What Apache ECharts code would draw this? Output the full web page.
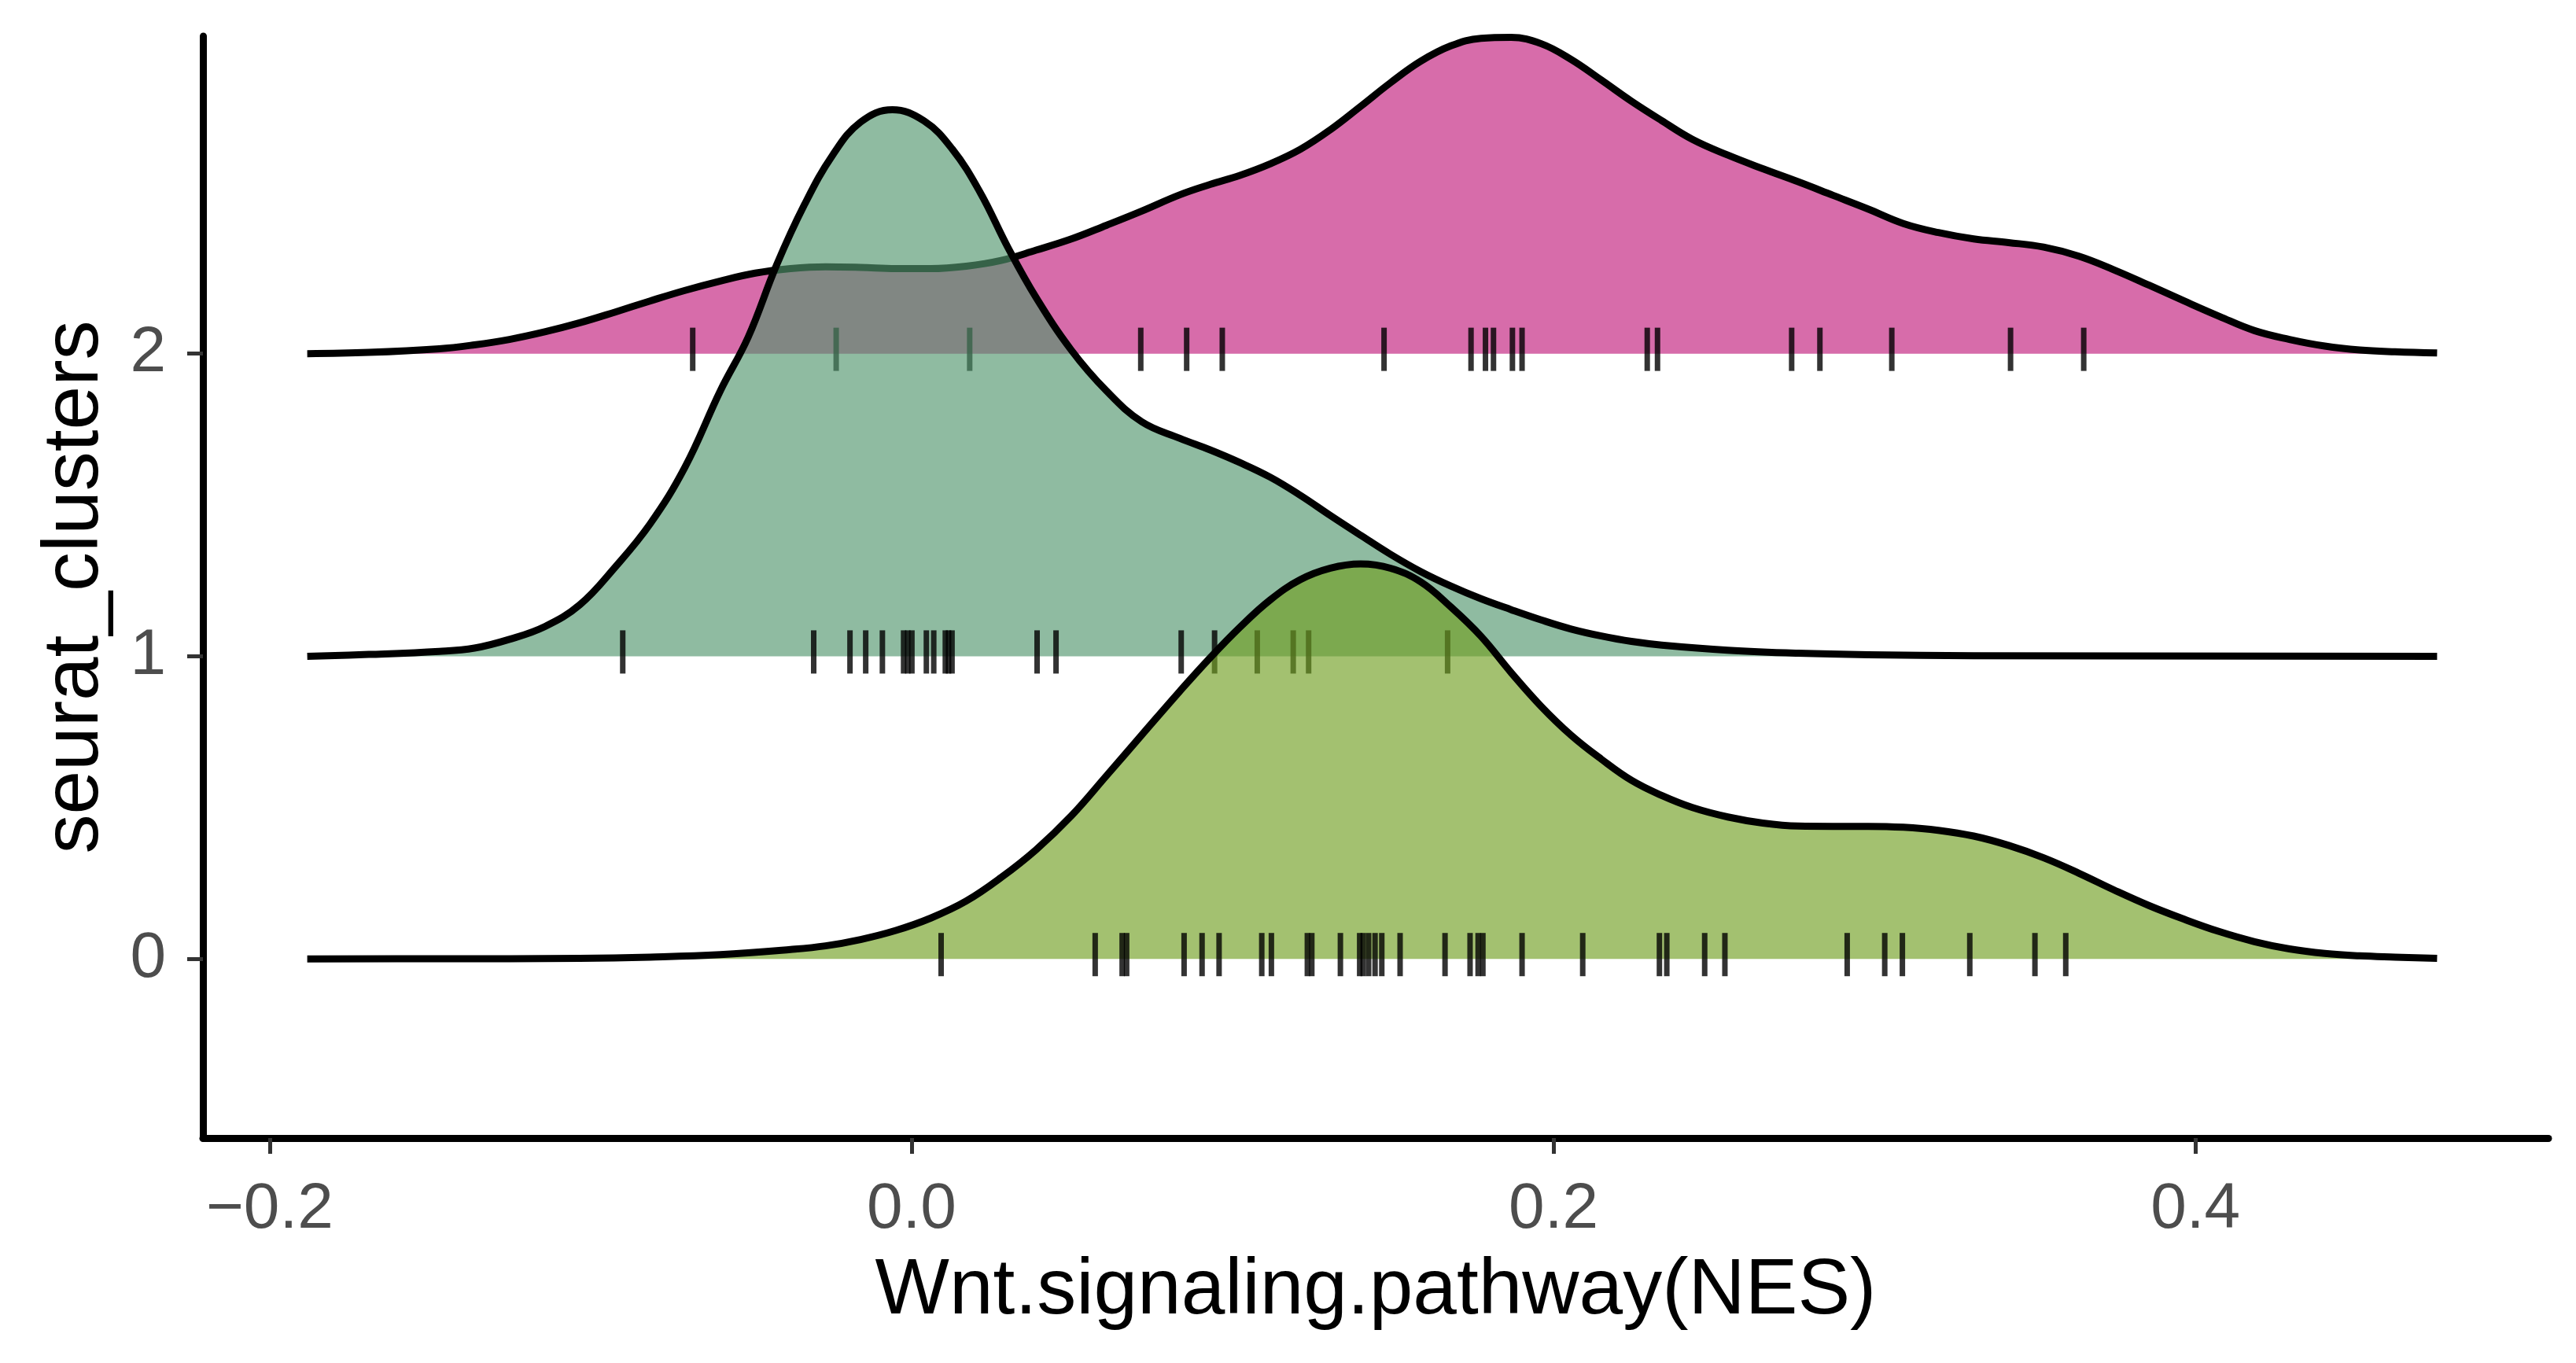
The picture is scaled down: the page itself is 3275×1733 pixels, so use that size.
<!DOCTYPE html>
<html>
<head>
<meta charset="utf-8">
<script src="https://cdn.jsdelivr.net/npm/echarts@6/dist/echarts.min.js"></script>
<style>
html, body { margin: 0; padding: 0; background: #fff; }
#chart { width: 3275px; height: 1733px; }
</style>
</head>
<body>
<div id="chart"></div>
<script>
var clusters = ['0', '1', '2'];
var xTicks = [-0.2, 0, 0.2, 0.4];
var yTicks = [0, 1, 2];

// ridge outlines: x value and height above the cluster baseline
var dens2X = [-0.1883, -0.1691, -0.1472, -0.1362, -0.1253, -0.1143, -0.1034, -0.0925, -0.0815, -0.0706,
    -0.0596, -0.0487, -0.0377, -0.0268, -0.0159, -0.0049, 0.0060, 0.0170, 0.0279, 0.0388,
    0.0498, 0.0607, 0.0717,
    0.0836, 0.0930, 0.1023, 0.1117, 0.1211, 0.1305, 0.1399, 0.1492, 0.1586, 0.1680,
    0.1774, 0.1868, 0.1962, 0.2055, 0.2149, 0.2243, 0.2337,
    0.2433, 0.2543, 0.2652, 0.2762, 0.2871, 0.2980, 0.3090, 0.3199, 0.3309, 0.3418,
    0.3527, 0.3637, 0.3746, 0.3856, 0.3965, 0.4075, 0.4184, 0.4293, 0.4403, 0.4512, 0.4622,
    0.4753];
var dens2H = [0, 0.004, 0.016, 0.029, 0.047, 0.072, 0.102, 0.137, 0.174, 0.209,
    0.240, 0.266, 0.281, 0.287, 0.285, 0.281, 0.281, 0.289, 0.308, 0.342,
    0.379, 0.424, 0.471,
    0.525, 0.559, 0.589, 0.627, 0.675, 0.740, 0.817, 0.895, 0.966, 1.017,
    1.042, 1.045, 1.024, 0.972, 0.904, 0.834, 0.770,
    0.708, 0.656, 0.611, 0.568, 0.523, 0.478, 0.430, 0.400, 0.379, 0.367,
    0.352, 0.322, 0.277, 0.226, 0.174, 0.123, 0.076, 0.047, 0.025, 0.012, 0.006,
    0.002];

var dens1X = [-0.1883, -0.1691, -0.1472, -0.1362, -0.1253, -0.1143, -0.1034, -0.0925, -0.0815, -0.0706, -0.0596,
    -0.0509, -0.0421, -0.0334, -0.0246, -0.0159, -0.0060, 0.0039, 0.0126, 0.0213, 0.0301, 0.0388,
    0.0498, 0.0607, 0.0717,
    0.0836, 0.0930, 0.1023, 0.1117, 0.1211, 0.1305, 0.1399, 0.1492, 0.1586, 0.1680,
    0.1774, 0.1868, 0.1962, 0.2055, 0.2149, 0.2243, 0.2337,
    0.2543, 0.2762, 0.2980, 0.3309, 0.4753];
var dens1H = [0, 0.006, 0.016, 0.027, 0.056, 0.098, 0.170, 0.293, 0.437, 0.625, 0.877,
    1.055, 1.292, 1.492, 1.656, 1.765, 1.806, 1.769, 1.677, 1.534, 1.349, 1.185,
    1.011, 0.877, 0.775,
    0.720, 0.682, 0.640, 0.592, 0.532, 0.465, 0.400, 0.337, 0.280, 0.232,
    0.190, 0.154, 0.120, 0.090, 0.067, 0.049, 0.037,
    0.020, 0.010, 0.005, 0.002, 0];

var dens0X = [-0.1883, -0.1472, -0.1034, -0.0815, -0.0596,
    -0.0377, -0.0268, -0.0159, -0.0049, 0.0060, 0.0170, 0.0279, 0.0388, 0.0498, 0.0607, 0.0717,
    0.0836, 0.0930, 0.1023, 0.1117, 0.1211, 0.1305, 0.1399, 0.1492, 0.1586, 0.1680,
    0.1774, 0.1868, 0.1962, 0.2055, 0.2149, 0.2243, 0.2337,
    0.2433, 0.2543, 0.2652, 0.2762, 0.2871, 0.2980, 0.3090, 0.3199, 0.3309, 0.3418,
    0.3527, 0.3637, 0.3746, 0.3856, 0.3965, 0.4075, 0.4184, 0.4293, 0.4403, 0.4512, 0.4622,
    0.4753];
var dens0H = [0, 0.0005, 0.002, 0.006, 0.014,
    0.031, 0.043, 0.064, 0.094, 0.135, 0.191, 0.269, 0.361, 0.473, 0.605, 0.740,
    0.885, 0.995, 1.096, 1.186, 1.253, 1.291, 1.305, 1.291, 1.246, 1.163,
    1.066, 0.946, 0.834, 0.739, 0.660, 0.590, 0.540,
    0.500, 0.469, 0.449, 0.439, 0.438, 0.438, 0.435, 0.425, 0.406, 0.375,
    0.334, 0.283, 0.228, 0.176, 0.131, 0.090, 0.057, 0.033, 0.018, 0.010, 0.006,
    0.002];

// rug marks (one per cell)
var rug2 = [-0.0682, -0.0235, 0.0181, 0.0714, 0.0857, 0.0968, 0.1472, 0.1743, 0.1788, 0.1813,
    0.1872, 0.1902, 0.2292, 0.2324, 0.2742, 0.2830, 0.3054, 0.3424, 0.3652];
var rug1 = [-0.0900, -0.0305, -0.0192, -0.0143, -0.0091, -0.0025, -0.0012, 0.0001, 0.0046, 0.0069,
    0.0105, 0.0115, 0.0126, 0.0391, 0.0450, 0.0840, 0.0944, 0.1077, 0.1189, 0.1237, 0.1670];
var rug0 = [0.0092, 0.0572, 0.0656, 0.0670, 0.0849, 0.0905, 0.0958, 0.1091, 0.1121, 0.1233,
    0.1247, 0.1336, 0.1396, 0.1407, 0.1424, 0.1444, 0.1465, 0.1522, 0.1662, 0.1740,
    0.1765, 0.1780, 0.1902, 0.2091, 0.2330, 0.2353, 0.2471, 0.2534, 0.2915, 0.3032,
    0.3087, 0.3297, 0.3500, 0.3596];

var fillColors = ['rgb(113,160,35)', 'rgb(83,150,110)', 'rgb(193,29,124)'];

var FONT = '"Liberation Sans", Helvetica, Arial, sans-serif';

function ridge(xsArr, hs, base, color, z) {
    var pts = [];
    for (var i = 0; i < xsArr.length; i++) {
        pts.push([xsArr[i], base + hs[i]]);
    }
    return {
        type: 'line',
        data: pts,
        smooth: 0.4,
        showSymbol: false,
        symbol: 'none',
        lineStyle: { color: '#000', width: 9, join: 'round' },
        areaStyle: { color: color, opacity: 0.65, origin: base },
        z: z,
        silent: true,
        animation: false
    };
}

function rug(list, base, z) {
    return {
        type: 'scatter',
        data: list.map(function (x) { return [x, base]; }),
        symbol: 'rect',
        symbolSize: [7, 55],
        symbolOffset: [0, -5.5],
        itemStyle: { color: '#000' },
        z: z,
        silent: true,
        animation: false
    };
}

var myChart = echarts.init(document.getElementById('chart'));

option = {
    backgroundColor: '#fff',
    grid: { left: 258, right: 35, top: 46, bottom: 286 },
    xAxis: {
        type: 'value',
        min: -0.2208,
        max: 0.51,
        name: 'Wnt.signaling.pathway(NES)',
        nameLocation: 'middle',
        nameGap: 145,
        nameTextStyle: { fontFamily: FONT, fontSize: 100, color: '#000' },
        axisLine: { onZero: false, lineStyle: { color: '#000', width: 9 } },
        axisTick: { customValues: xTicks, length: 20, lineStyle: { color: '#333', width: 5 } },
        axisLabel: {
            customValues: xTicks,
            margin: 50,
            fontFamily: FONT,
            fontSize: 82,
            color: '#4D4D4D',
            formatter: function (v) {
                return v < 0 ? '\u2212' + Math.abs(v).toFixed(1) : v.toFixed(1);
            }
        },
        splitLine: { show: false }
    },
    yAxis: {
        type: 'value',
        min: -0.592,
        max: 3.049,
        name: 'seurat_clusters',
        nameLocation: 'middle',
        nameGap: 112,
        nameTextStyle: { fontFamily: FONT, fontSize: 100, color: '#000' },
        axisLine: { onZero: false, lineStyle: { color: '#000', width: 9 } },
        axisTick: { customValues: yTicks, length: 20, lineStyle: { color: '#333', width: 5 } },
        axisLabel: {
            customValues: yTicks,
            margin: 47,
            fontFamily: FONT,
            fontSize: 82,
            color: '#4D4D4D',
            formatter: function (v) { return clusters[Math.round(v)]; }
        },
        splitLine: { show: false }
    },
    series: [
        ridge(dens2X, dens2H, 2, fillColors[2], 1),
        rug(rug2, 2, 2),
        ridge(dens1X, dens1H, 1, fillColors[1], 3),
        rug(rug1, 1, 4),
        ridge(dens0X, dens0H, 0, fillColors[0], 5),
        rug(rug0, 0, 6)
    ]
};

myChart.setOption(option);
</script>
</body>
</html>
